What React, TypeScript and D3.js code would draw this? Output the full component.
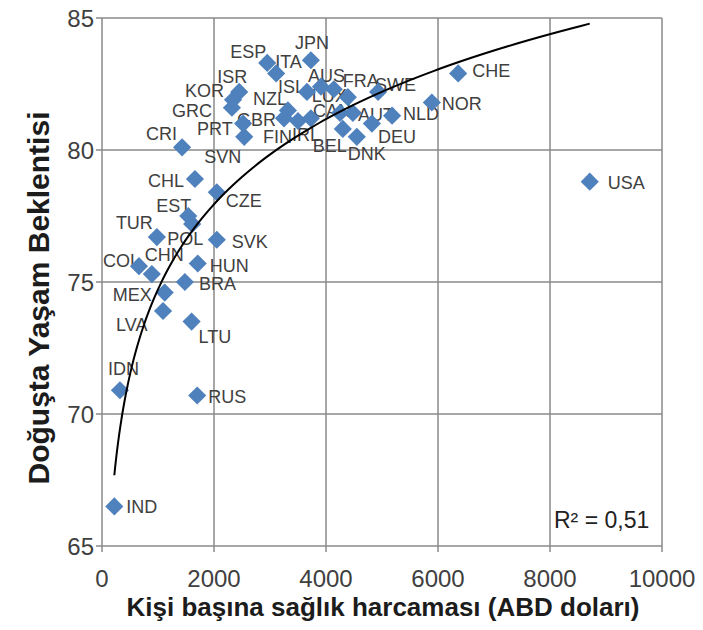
import React from 'react';
import * as d3 from 'd3';

// country codes and values
const countries = ['IND', 'IDN', 'RUS', 'LTU', 'LVA', 'MEX', 'BRA', 'COL', 'CHN', 'HUN', 'TUR', 'POL', 'EST', 'SVK', 'CZE', 'CHL', 'CRI', 'SVN', 'PRT', 'GRC', 'KOR', 'ISR', 'ESP', 'ITA', 'JPN', 'ISL', 'AUS', 'LUX', 'CAN', 'FRA', 'SWE', 'AUT', 'NLD', 'NOR', 'CHE', 'DEU', 'DNK', 'BEL', 'NZL', 'GBR', 'FIN', 'IRL', 'USA'];
const spending = [220, 320, 1700, 1600, 1090, 1120, 1480, 660, 890, 1710, 980, 1610, 1540, 2050, 2050, 1660, 1430, 2540, 2520, 2320, 2340, 2450, 2950, 3110, 3730, 3660, 3910, 4140, 4250, 4390, 4930, 4480, 5180, 5890, 6360, 4820, 4550, 4300, 3320, 3250, 3500, 3730, 8710];
const lifeExp = [66.5, 70.9, 70.7, 73.5, 73.9, 74.6, 75.0, 75.6, 75.3, 75.7, 76.7, 77.2, 77.5, 76.6, 78.4, 78.9, 80.1, 80.5, 81.0, 81.6, 81.9, 82.2, 83.3, 82.9, 83.4, 82.2, 82.4, 82.3, 81.4, 82.0, 82.2, 81.4, 81.3, 81.8, 82.9, 81.0, 80.5, 80.8, 81.5, 81.2, 81.1, 81.2, 78.8];

// logarithmic trend y = a*ln(x) + b
const trendA = 4.65;
const trendB = 42.6;
const rSquared = '0,51';

const xTicks = [0, 2000, 4000, 6000, 8000, 10000];
const yTicks = [65, 70, 75, 80, 85];

// label placement next to each marker (px)
const labelOffset: Record<string, [number, number]> = {
  IND: [12, 1], IDN: [-12, -21], RUS: [11, 1], LTU: [7, 15], LVA: [-47, 14], MEX: [-52, 2],
  BRA: [14, 2], COL: [-36, -5], CHN: [-7, -19], HUN: [12, 2], TUR: [-41, -14], POL: [-25, 15],
  EST: [-32, -10], SVK: [15, 2], CZE: [9, 9], CHL: [-47, 2], CRI: [-36, -13], SVN: [-40, 20],
  PRT: [-46, 5], GRC: [-60, 3], KOR: [-48, -9], ISR: [-22, -15], ESP: [-37, -11], ITA: [-1, -11],
  JPN: [-16, -17], ISL: [-29, -5], AUS: [-13, -11], LUX: [-22, 7], CAN: [-27, -2], FRA: [-5, -16],
  SWE: [-3, -7], AUT: [5, 2], NLD: [11, -2], NOR: [10, 2], CHE: [14, -2], DEU: [6, 13],
  DNK: [-9, 17], BEL: [-30, 17], NZL: [-35, -11], GBR: [-47, 2], FIN: [-35, 16], IRL: [-19, 17],
  USA: [18, 1],
};

const font = 'Arial, "Liberation Sans", sans-serif';

export default function App() {
  const width = 703;
  const height = 630;
  const left = 102, right = 662, top = 18, bottom = 546;

  const x = d3.scaleLinear().domain([0, 10000]).range([left, right]);
  const y = d3.scaleLinear().domain([65, 85]).range([bottom, top]);

  const points = countries.map((c, i) => ({ code: c, x: spending[i], y: lifeExp[i] }));

  const [xMin, xMax] = d3.extent(spending) as [number, number];
  const trendXs = d3.range(0, 201).map(i => xMin * Math.pow(xMax / xMin, i / 200));
  const line = d3.line<number>().x(v => x(v)).y(v => y(trendA * Math.log(v) + trendB));

  const diamond = d3.symbol().type(d3.symbolSquare).size(165)()!;

  return (
    <svg width={width} height={height} style={{ position: 'absolute', left: 0, top: 0, background: '#fff' }}>
      <rect width={width} height={height} fill="#fff" />
      <g stroke="#8a8a8a" strokeWidth={1.5}>
        {xTicks.map(t => <line key={'gx' + t} x1={x(t)} x2={x(t)} y1={top} y2={bottom + 6} />)}
        {yTicks.map(t => <line key={'gy' + t} x1={left - 6} x2={right} y1={y(t)} y2={y(t)} />)}
      </g>
      <g fontFamily={font} fontSize={24} fill="#404040">
        {xTicks.map(t => (
          <text key={'tx' + t} x={x(t)} y={578} textAnchor="middle" dominantBaseline="central">{t}</text>
        ))}
        {yTicks.map(t => (
          <text key={'ty' + t} x={left - 8} y={y(t)} textAnchor="end" dominantBaseline="central">{t}</text>
        ))}
      </g>
      <g fontFamily={font} fontSize={18} fill="#404040">
        {points.map(p => {
          const [dx, dy] = labelOffset[p.code] || [10, 0];
          return (
            <text key={'l' + p.code} x={x(p.x) + dx} y={y(p.y) + dy} dominantBaseline="central">{p.code}</text>
          );
        })}
      </g>
      <g fill="#4f81bd">
        {points.map(p => (
          <path key={'p' + p.code} d={diamond} transform={`translate(${x(p.x)},${y(p.y)}) rotate(45)`} />
        ))}
      </g>
      <path d={line(trendXs)!} fill="none" stroke="#000" strokeWidth={2} />
      <text x={554} y={520} fontFamily={font} fontSize={23} fill="#222" dominantBaseline="central">R² = {rSquared}</text>
      <text x={383} y={607} fontFamily={font} fontSize={26} fontWeight="bold" fill="#1c1c1c"
        textAnchor="middle" dominantBaseline="central">Kişi başına sağlık harcaması (ABD doları)</text>
      <text transform="translate(38,298) rotate(-90)" fontFamily={font} fontSize={30}
        fontWeight="bold" fill="#1c1c1c" textAnchor="middle" dominantBaseline="central">Doğuşta Yaşam Beklentisi</text>
    </svg>
  );
}
